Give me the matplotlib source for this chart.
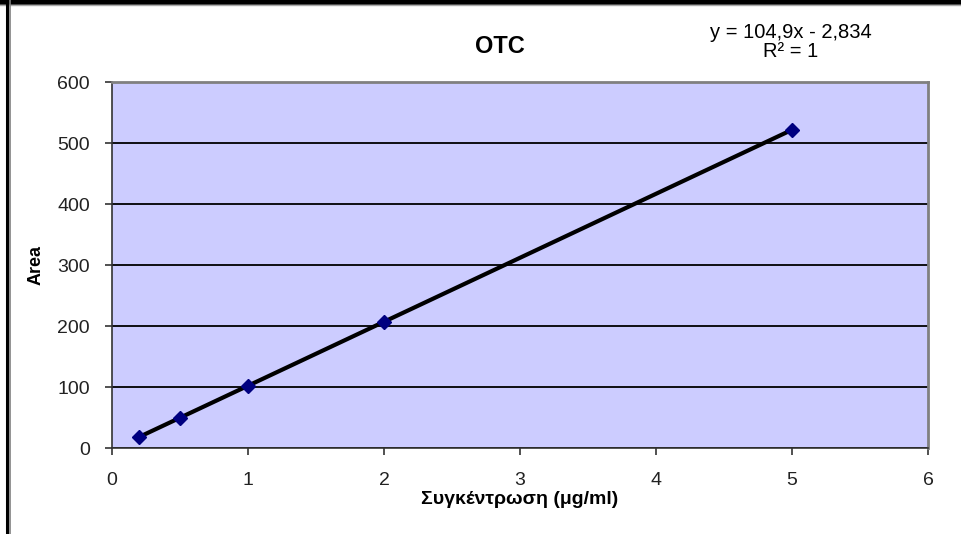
"""OTC calibration curve: peak area vs concentration with linear trendline."""

import matplotlib.pyplot as plt
import matplotlib.lines as mlines

plt.rcParams["font.family"] = ["Liberation Sans", "DejaVu Sans"]

# ── calibration data ──────────────────────────────────────────────────────────
conc = [0.2, 0.5, 1.0, 2.0, 5.0]          # μg/ml
area = [18.2, 49.3, 101.5, 207.4, 521.5]

# linear fit reported on the chart
slope = 104.9
intercept = -2.834
r2 = 1

x_ticks = [0, 1, 2, 3, 4, 5, 6]
y_ticks = [0, 100, 200, 300, 400, 500, 600]

fig = plt.figure(figsize=(9.62, 5.34), dpi=100)
fig.patch.set_facecolor("white")

ax = fig.add_axes([0.1164, 0.161, 0.8483, 0.6854])
ax.set_facecolor("#ccccff")

# trendline over the measured range
x_fit = [conc[0], conc[-1]]
y_fit = [slope * x + intercept for x in x_fit]
ax.plot(x_fit, y_fit, color="black", linewidth=3.0, zorder=3,
        solid_capstyle="butt")
ax.plot(conc, area, linestyle="none", marker="D", markersize=7,
        color="#000080", markeredgecolor="#000080", zorder=4)

ax.set_xlim(0, 6)
ax.set_ylim(0, 600)
ax.set_xticks(x_ticks)
ax.set_yticks(y_ticks)
ax.yaxis.grid(True, color="black", linewidth=1.3)
ax.set_axisbelow(True)

for side in ("top", "right"):
    ax.spines[side].set_color("#808080")
    ax.spines[side].set_linewidth(2)
for side in ("left", "bottom"):
    ax.spines[side].set_color("#333333")
    ax.spines[side].set_linewidth(1.2)

ax.tick_params(axis="both", direction="out", length=5, width=1.2,
               color="#333333", labelsize=14, labelcolor="#222222")
ax.tick_params(axis="y", pad=11)
ax.tick_params(axis="x", pad=12)

ax.set_xlabel("Συγκέντρωση (μg/ml)", fontsize=14, fontweight="bold")
ax.xaxis.set_label_coords(0.5, -0.14, transform=ax.transAxes)
ax.xaxis.label.set_va("center")
ax.set_ylabel("Area", fontsize=13, fontweight="bold", labelpad=9)

fig.text(0.52, 0.912, "OTC", ha="center", va="center",
         fontsize=17, fontweight="bold")
fig.text(0.822, 0.940, f"y = {slope:.1f}x - {abs(intercept):.3f}".replace(".", ","),
         ha="center", va="center", fontsize=14.5)
fig.text(0.822, 0.903, f"R² = {r2}", ha="center", va="center", fontsize=14.5)

# chart frame: heavy top edge and double line on the left
fig.add_artist(mlines.Line2D([0, 1], [0.9955, 0.9955], color="black",
                             linewidth=4, transform=fig.transFigure))
fig.add_artist(mlines.Line2D([0, 1], [0.9905, 0.9905], color="#aaaaaa",
                             linewidth=1, transform=fig.transFigure))
fig.add_artist(mlines.Line2D([0.0073, 0.0073], [0, 1], color="black",
                             linewidth=2.2, transform=fig.transFigure))
fig.add_artist(mlines.Line2D([0.0104, 0.0104], [0, 1], color="#808080",
                             linewidth=1.2, transform=fig.transFigure))

fig.savefig("out.png", dpi=100)
